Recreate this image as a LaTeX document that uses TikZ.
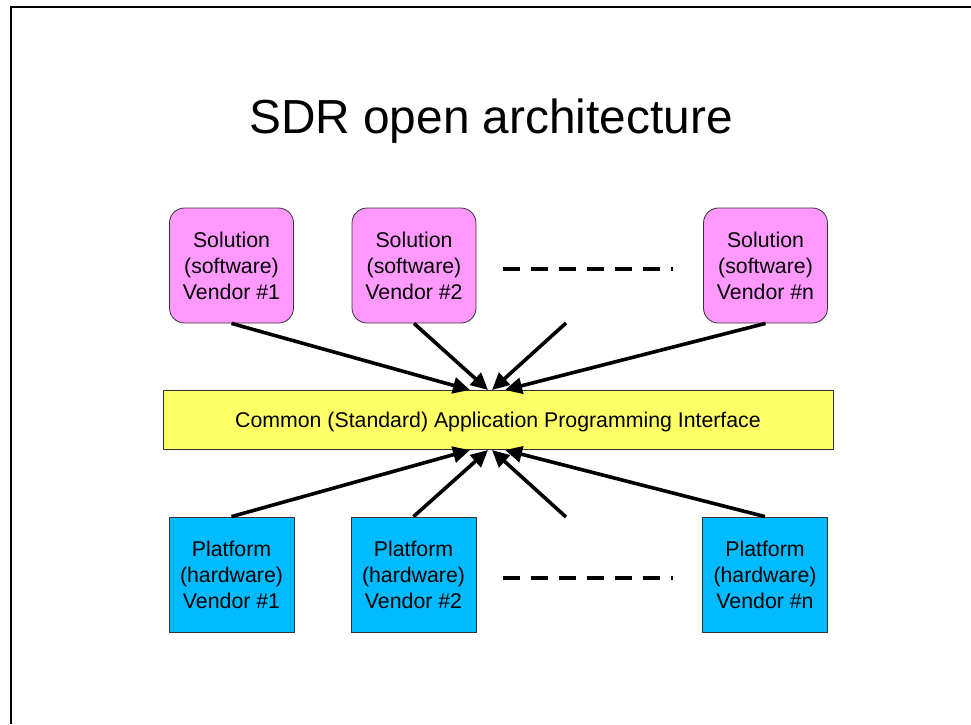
\documentclass[tikz,border=0pt]{standalone}
\usepackage{fontspec}
\setmainfont{Liberation Sans}
\usetikzlibrary{arrows.meta}
\definecolor{solpink}{HTML}{FF99FF}
\definecolor{apiyellow}{HTML}{FFFF66}
\definecolor{platblue}{HTML}{00BBFF}
\tikzset{
  boxtext/.style={font=\fontsize{21.3}{26}\selectfont, align=center, inner sep=0pt},
  solbox/.style={boxtext, draw=black!80, line width=0.8pt, fill=solpink, rounded corners=15pt, minimum width=124pt, minimum height=115pt},
  platbox/.style={boxtext, draw=black!80, line width=0.8pt, fill=platblue, minimum width=125pt, minimum height=115pt},
  apibox/.style={boxtext, draw=black!80, line width=0.8pt, fill=apiyellow, minimum width=670pt, minimum height=59pt, text height=21pt, text depth=4.5pt},
  conn/.style={line width=3.6pt, -{Triangle[length=17pt,width=16pt]}},
  dashline/.style={line width=3.2pt, dash pattern=on 17pt off 11pt}
}
\begin{document}
\begin{tikzpicture}[x=1pt,y=-1pt]
\useasboundingbox (0,0) rectangle (971,724);
% frame
\draw[line width=2.2pt] (11,724) -- (11,7) -- (971,7);
% title
\node[anchor=base, font=\fontsize{47.8}{56}\selectfont, inner sep=0pt] (title) at (491,133) {SDR open architecture};
% solution boxes
\node[solbox] (s1) at (231.5,265.5) {Solution\\(software)\\Vendor \#1};
\node[solbox] (s2) at (414,265.5) {Solution\\(software)\\Vendor \#2};
\node[solbox] (sn) at (765.5,265.5) {Solution\\(software)\\Vendor \#n};
% api
\node[apibox] (api) at (498,419.5) {Common (Standard) Application Programming Interface};
% platform boxes
\node[platbox] (p1) at (231.5,574.5) {Platform\\(hardware)\\Vendor \#1};
\node[platbox] (p2) at (413.5,574.5) {Platform\\(hardware)\\Vendor \#2};
\node[platbox] (pn) at (765,574.5) {Platform\\(hardware)\\Vendor \#n};
% free ends and tips
\coordinate (tfree) at (566,323);
\coordinate (bfree) at (566,517);
\coordinate (ta1) at (470,390);
\coordinate (ta2) at (488,390);
\coordinate (ta3) at (492,390);
\coordinate (ta4) at (505,390);
\coordinate (ba1) at (470,450);
\coordinate (ba2) at (488,450);
\coordinate (ba3) at (492,450);
\coordinate (ba4) at (505,450);
% arrows
\draw[conn] (s1.south) -- (ta1);
\draw[conn] (s2.south) -- (ta2);
\draw[conn] (tfree) -- (ta3);
\draw[conn] (sn.south) -- (ta4);
\draw[conn] (p1.north) -- (ba1);
\draw[conn] (p2.north) -- (ba2);
\draw[conn] (bfree) -- (ba3);
\draw[conn] (pn.north) -- (ba4);
% dashed lines
\coordinate (td1) at (503,269);
\coordinate (td2) at (673,269);
\coordinate (bd1) at (503,578);
\coordinate (bd2) at (673,578);
\draw[dashline] (td1) -- (td2);
\draw[dashline] (bd1) -- (bd2);
\end{tikzpicture}
\end{document}
